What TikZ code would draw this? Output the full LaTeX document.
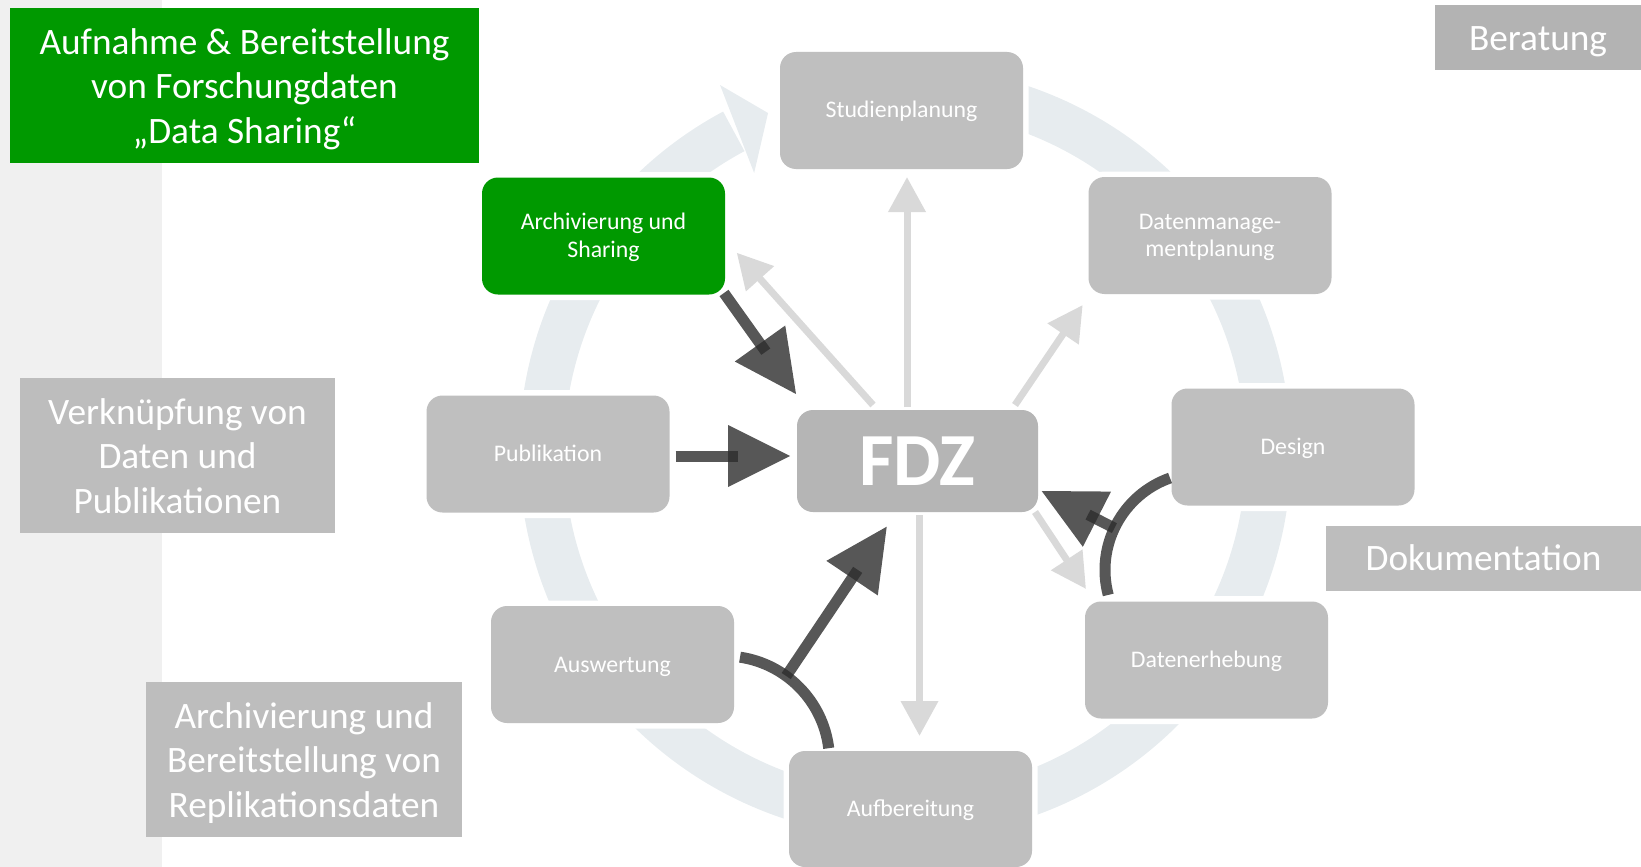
\documentclass[tikz,border=0pt]{standalone}
\usepackage{fontspec}
\setmainfont{Carlito}
\usetikzlibrary{arrows.meta,calc}
\definecolor{boxgray}{HTML}{BFBFBF}
\definecolor{fdzgray}{HTML}{B5B5B5}
\definecolor{labgray}{HTML}{BDBDBD}
\definecolor{berggray}{HTML}{B3B3B3}
\definecolor{fgreen}{RGB}{0,153,0}
\definecolor{ringcol}{RGB}{231,236,239}
\definecolor{lightarr}{HTML}{D9D9D9}
\definecolor{darkarr}{HTML}{2D2D2D}
\definecolor{stripcol}{HTML}{F0F0F0}
\newcommand\fdzlines[2][-2pt]{\raisebox{#1}[\height][\depth]{\begin{tabular}{@{}c@{}}#2\end{tabular}}}
\newcommand\fdzdark[2]{%
  \coordinate (hb) at ($(#2)!62pt!(#1)$);
  \coordinate (he) at ($(#2)!52pt!(#1)$);
  \draw[darkline] (#1) -- (he);
  \fill[darkhead] (#2) -- ($(hb)!31pt!90:(#2)$) -- ($(hb)!31pt!-90:(#2)$) -- cycle;
}
\begin{document}
\begin{tikzpicture}[x=1pt,y=1pt,
  cyc/.style={rounded corners=16pt, fill=boxgray, minimum width=243pt, minimum height=117pt,
    text=white, inner sep=0pt, font=\fontsize{23.8}{27.5}\selectfont,
    preaction={draw=white, line width=11pt}},
  lab/.style={fill=labgray, text=white, inner sep=0pt,
    font=\fontsize{37.3}{44.5}\selectfont},
  lightline/.style={draw=lightarr, line width=7pt, -{Triangle[length=35pt,width=36pt]}},
  darkline/.style={draw=darkarr, line width=11pt, draw opacity=0.8},
  darkhead/.style={fill=darkarr, fill opacity=0.8},
  ring/.style={draw=ringcol, line width=45pt}
]
\useasboundingbox (0,0) rectangle (1641,-867);
\fill[stripcol] (0,0) rectangle (162,-867);

% ring
\coordinate (rc) at (905,-452);
\draw[ring] ($(rc)+(100:363.5)$) arc[start angle=100, end angle=-241.9, radius=363.5];
\fill[ringcol] ($(rc)+(116.75:411)$) -- ($(rc)+(112:365.6)$) -- ($(rc)+(118.4:317.2)$) -- cycle;

% cycle boxes
\node[cyc] (stud)   at (901.5,-110.5) {\fdzlines{Studienplanung}};
\node[cyc] (dmp)    at (1210,-235.5)  {\fdzlines{Datenmanage-\\mentplanung}};
\node[cyc] (design) at (1293,-447)    {\fdzlines{Design}};
\node[cyc] (dateh)  at (1206.5,-660)  {\fdzlines{Datenerhebung}};
\node[cyc, minimum height=116pt] (aufb) at (910.5,-809) {\fdzlines{Aufbereitung}};
\node[cyc] (ausw)   at (612.5,-664.5) {\fdzlines{Auswertung}};
\node[cyc] (publ)   at (548,-454)     {\fdzlines{Publikation}};
\node[cyc, fill=fgreen] (arch) at (603.5,-236) {\fdzlines{Archivierung und\\Sharing}};
\node[cyc, fill=fdzgray, minimum width=241pt, minimum height=102pt,
      font=\fontsize{75}{80}\bfseries\selectfont, preaction={}] (fdz) at (917.5,-461) {FDZ};

% light arrows from FDZ
\coordinate (l1s) at (907,-407);    \coordinate (l1t) at (907,-177);
\coordinate (l2s) at (1015,-405);   \coordinate (l2t) at (1082.7,-305);
\coordinate (l3s) at (873,-405);    \coordinate (l3t) at (736.7,-252.7);
\coordinate (l4s) at (1035,-512);   \coordinate (l4t) at (1086,-589);
\coordinate (l5s) at (919.5,-515);  \coordinate (l5t) at (919.5,-736);
\draw[lightline] (l1s) -- (l1t);
\draw[lightline] (l2s) -- (l2t);
\draw[lightline] (l3s) -- (l3t);
\draw[lightline] (l4s) -- (l4t);
\draw[lightline] (l5s) -- (l5t);

% dark arcs
\coordinate (auc) at (724.5,-761);
\draw[darkline] ($(auc)+(81.5:105)$) arc[start angle=81.5, end angle=7, radius=105];
\coordinate (dsc) at (1202.6,-570);
\draw[darkline] ($(dsc)+(109.5:97.6)$) arc[start angle=109.5, end angle=194.8, radius=97.6];

% dark arrows into FDZ
\coordinate (d1s) at (724,-293);   \coordinate (d1t) at (796,-394);
\coordinate (d2s) at (675.5,-456); \coordinate (d2t) at (790,-456);
\coordinate (d3s) at ($(auc)+(54:105)$);      \coordinate (d3t) at (886.7,-526.7);
\coordinate (d4s) at ($(dsc)+(154.6:97.6)$);  \coordinate (d4t) at (1041.7,-491);
\fdzdark{d1s}{d1t}
\fdzdark{d2s}{d2t}
\fdzdark{d3s}{d3t}
\fdzdark{d4s}{d4t}

% label boxes
\node[lab, fill=fgreen, minimum width=469pt, minimum height=155pt] (title) at (244.5,-85.5)
  {\fdzlines[-4.2pt]{Aufnahme \& Bereitstellung\\von Forschungdaten\\„Data Sharing“}};
\node[lab, minimum width=315pt, minimum height=155pt] (verk) at (177.5,-455.5)
  {\fdzlines[-4.2pt]{Verknüpfung von\\Daten und\\Publikationen}};
\node[lab, minimum width=316pt, minimum height=155pt] (repl) at (304,-759.5)
  {\fdzlines[-4.2pt]{Archivierung und\\Bereitstellung von\\Replikationsdaten}};
\node[lab, fill=berggray, minimum width=206pt, minimum height=65pt] (berat) at (1538,-37.5)
  {\fdzlines[-4.2pt]{Beratung}};
\node[lab, minimum width=315pt, minimum height=65pt] (doku) at (1483.5,-558.5)
  {\fdzlines[-3.2pt]{Dokumentation}};
\end{tikzpicture}
\end{document}
